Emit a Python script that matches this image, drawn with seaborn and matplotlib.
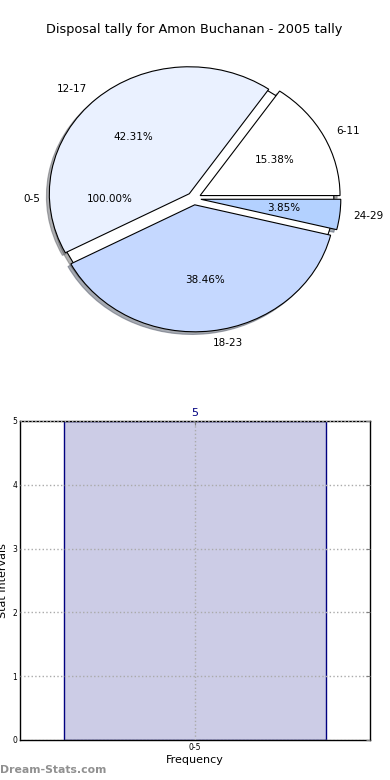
import matplotlib
matplotlib.use("Agg")
import matplotlib.pyplot as plt
import pandas as pd
import seaborn as sns

titulo = "Disposal tally for Amon Buchanan - 2005 tally"

# Pizza - faixas e contagens
faixas = ["6-11", "12-17", "18-23", "24-29"]
contagens = [4, 11, 10, 1]
cores = ["#ffffff", "#eaf1ff", "#c5d8ff", "#b3d1ff"]
explode = [0.05, 0.05, 0.05, 0.05]

# primeira pizza (0-5) desenhada por baixo
faixa_base = ["0-5"]
contagem_base = [1]

# Barras
barra_faixas = ["0-5"]
barra_valores = [5]
yticks = [0, 1, 2, 3, 4, 5]

sns.set_style("white")
plt.rcParams['font.family'] = ['DejaVu Sans']
plt.rcParams['text.color'] = 'black'
plt.rcParams['axes.labelcolor'] = 'black'
plt.rcParams['xtick.labelcolor'] = 'black'
plt.rcParams['ytick.labelcolor'] = 'black'

fig = plt.figure(figsize=(3.9, 7.8), dpi=100)

# Passo 1 - pizza
ax1 = fig.add_axes([0.0487, 0.542, 0.897, 0.407])
props = {'edgecolor': 'black', 'linewidth': 0.8}
sombra = {'ox': -0.015, 'oy': -0.015, 'shade': 0.6}
ax1.pie(contagem_base, labels=faixa_base, colors=["#ffffff"], autopct="%.2f%%",
        shadow=sombra, labeldistance=1.1, pctdistance=0.6,
        textprops={'fontsize': 7.5}, wedgeprops=props)
ax1.pie(contagens, labels=faixas, colors=cores, explode=explode, autopct="%.2f%%",
        shadow=sombra, labeldistance=1.1, pctdistance=0.6,
        textprops={'fontsize': 7.5}, wedgeprops=props)
ax1.set_aspect('auto')
ax1.set_xlim(-1.25, 1.25)
ax1.set_ylim(-1.25, 1.25)
fig.text(0.497, 1 - 30 / 780, titulo, ha="center", va="center", fontsize=9.3)

# Passo 2 - barras
ax2 = fig.add_axes([0.0513, 0.0513, 0.897, 0.409])
dados = pd.DataFrame({"faixa": barra_faixas, "freq": barra_valores})
sns.barplot(data=dados, x="faixa", y="freq", ax=ax2, color="#cccce6", saturation=1,
            edgecolor="navy", linewidth=1, width=0.75)
ax2.set_xlim(-0.5, 0.5)
ax2.set_ylim(0, 5)
ax2.set_yticks(yticks)
ax2.bar_label(ax2.containers[0], color="navy", fontsize=8, padding=2)
ax2.grid(True, linestyle=":", color="#aaaaaa", linewidth=1)
ax2.set_axisbelow(False)
ax2.tick_params(direction="in", length=3, color="gray", labelsize=5.5,
                top=True, right=True, pad=2)
for s in ax2.spines.values():
    s.set_color("black")
    s.set_linewidth(1)
ax2.set_xlabel("Frequency", fontsize=8, labelpad=2)
ax2.set_ylabel("Stat Intervals", fontsize=8, labelpad=3)

fig.text(0.0, 1 - 770 / 780, "Dream-Stats.com", ha="left", va="center",
         fontsize=7.8, fontweight="bold", color="#909090")

fig.savefig("out.png", dpi=100)
